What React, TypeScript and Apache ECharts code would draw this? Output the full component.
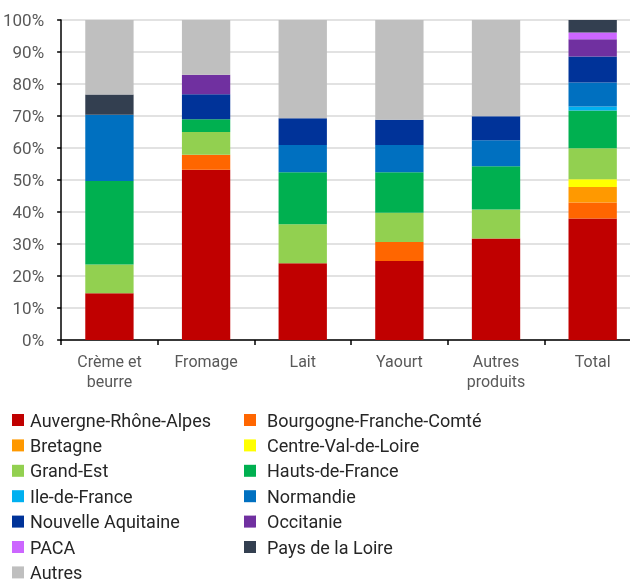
import React, { useEffect, useRef } from "react";
import * as echarts from "echarts";

const categories = ["Crème et\nbeurre", "Fromage", "Lait", "Yaourt", "Autres\nproduits", "Total"];
const yTickLabels = ["0%", "10%", "20%", "30%", "40%", "50%", "60%", "70%", "80%", "90%", "100%"];

const auvergne = [14.6, 53.2, 24.0, 24.7, 31.7, 38.0];
const bourgogne = [0, 4.7, 0, 5.9, 0, 5.0];
const bretagne = [0, 0, 0, 0, 0, 4.8];
const centre = [0, 0, 0, 0, 0, 2.4];
const grandEst = [9.0, 7.1, 12.2, 9.2, 9.1, 9.7];
const hauts = [26.1, 4.0, 16.2, 12.6, 13.5, 11.8];
const ileDeFrance = [0, 0, 0, 0, 0, 1.3];
const normandie = [20.7, 0, 8.5, 8.5, 8.1, 7.5];
const nouvelleAquitaine = [0, 7.8, 8.4, 7.9, 7.5, 8.1];
const occitanie = [0, 6.1, 0, 0, 0, 5.4];
const paca = [0, 0, 0, 0, 0, 2.1];
const paysDeLaLoire = [6.3, 0, 0, 0, 0, 3.9];
const autres = [23.3, 17.1, 30.7, 31.2, 30.1, 0];

const seriesDefs: [string, number[], string][] = [
  ["Auvergne-Rhône-Alpes", auvergne, "#C00000"],
  ["Bourgogne-Franche-Comté", bourgogne, "#FF6600"],
  ["Bretagne", bretagne, "#FF9900"],
  ["Centre-Val-de-Loire", centre, "#FFFF00"],
  ["Grand-Est", grandEst, "#92D050"],
  ["Hauts-de-France", hauts, "#00B050"],
  ["Ile-de-France", ileDeFrance, "#00B0F0"],
  ["Normandie", normandie, "#0070C0"],
  ["Nouvelle Aquitaine", nouvelleAquitaine, "#003399"],
  ["Occitanie", occitanie, "#7030A0"],
  ["PACA", paca, "#CC66FF"],
  ["Pays de la Loire", paysDeLaLoire, "#333F50"],
  ["Autres", autres, "#BFBFBF"],
];

const FONT = "Roboto";

export default function App() {
  const ref = useRef<HTMLDivElement>(null);
  useEffect(() => {
    if (!ref.current) return;
    const chart = echarts.init(ref.current, undefined, { renderer: "svg" });
    const names = seriesDefs.map((s) => s[0]);
    const leftNames = names.filter((_, i) => i % 2 === 0);
    const rightNames = names.filter((_, i) => i % 2 === 1);
    const legendCommon = {
      orient: "vertical" as const,
      itemWidth: 12,
      itemHeight: 12,
      itemGap: 7.4,
      icon: "rect",
      selectedMode: false,
      height: 200,
      padding: 0,
    };
    chart.setOption({
      animation: false,
      textStyle: { fontFamily: FONT },
      grid: { left: 61, top: 20, width: 580, height: 320, containLabel: false },
      legend: [
        {
          ...legendCommon,
          data: leftNames,
          left: 12,
          top: 411,
          textStyle: { fontFamily: FONT, fontSize: 18, color: "#262626", lineHeight: 18, padding: [0, 0, 0, 1] },
        },
        {
          ...legendCommon,
          data: rightNames,
          left: 244,
          top: 411,
          textStyle: { fontFamily: FONT, fontSize: 18, color: "#262626", lineHeight: 18, padding: [0, 0, 0, 6] },
        },
      ],
      xAxis: {
        type: "category",
        data: categories,
        axisLine: { lineStyle: { color: "#000", width: 1.5 } },
        axisTick: { show: true, length: 5, lineStyle: { color: "#000", width: 1.5 } },
        axisLabel: { fontSize: 16, color: "#595959", lineHeight: 20, margin: 11, fontFamily: FONT },
      },
      yAxis: {
        type: "value",
        min: 0,
        max: 100,
        interval: 10,
        axisLine: { show: true, lineStyle: { color: "#000", width: 1.5 } },
        axisTick: { show: true, length: 4, lineStyle: { color: "#000", width: 1.5 } },
        splitLine: { lineStyle: { color: "#D9D9D9", width: 1.5 } },
        axisLabel: {
          fontSize: 17,
          color: "#595959",
          margin: 17,
          fontFamily: FONT,
          formatter: (v: number) => yTickLabels[Math.round(v / 10)],
        },
      },
      series: seriesDefs.map(([name, data, color]) => ({
        name,
        type: "bar",
        stack: "total",
        data,
        barWidth: "50%",
        itemStyle: { color },
      })),
    });
    return () => chart.dispose();
  }, []);
  return (
    <div
      ref={ref}
      style={{ position: "fixed", left: 0, top: 0, width: 660, height: 620 }}
    />
  );
}
